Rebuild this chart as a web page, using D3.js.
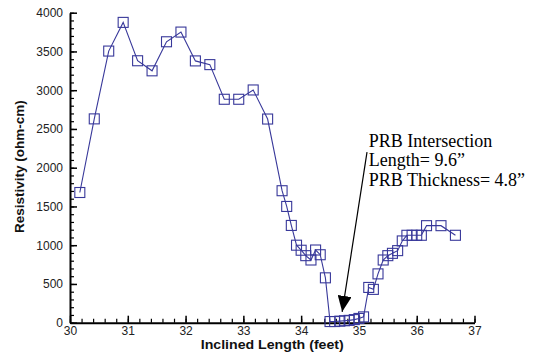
<!DOCTYPE html>
<html>
<head>
<meta charset="utf-8">
<script src="https://cdn.jsdelivr.net/npm/d3@7"></script>
<style>
  html, body { margin: 0; padding: 0; background: #fff; }
  svg { display: block; }
</style>
</head>
<body>
<div id="chart"></div>
<script>
// Data
const lengthFeet = [
  30.17, 30.42, 30.67, 30.92, 31.17, 31.42, 31.67, 31.92, 32.17, 32.42,
  32.67, 32.92, 33.17, 33.42, 33.67, 33.75, 33.83, 33.92, 34.00, 34.08,
  34.17, 34.25, 34.33, 34.42, 34.50, 34.58, 34.67, 34.75, 34.83, 34.92,
  35.00, 35.08, 35.17, 35.25, 35.33, 35.42, 35.50, 35.58, 35.67, 35.75,
  35.83, 35.92, 36.00, 36.08, 36.17, 36.42, 36.67
];
const resistivity = [
  1680, 2630, 3505, 3875, 3380, 3250, 3625, 3750, 3378, 3330,
  2883, 2883, 3003, 2628, 1703, 1500, 1255, 1000, 935, 865,
  809, 938, 877, 579, 15, 15, 20, 25, 30, 40,
  55, 75, 455, 430, 630, 809, 865, 895, 930, 1055,
  1128, 1128, 1128, 1128, 1252, 1252, 1128
];
const xTicks = [30, 31, 32, 33, 34, 35, 36, 37];
const yTicks = [0, 500, 1000, 1500, 2000, 2500, 3000, 3500, 4000];
const xLabel = "Inclined Length (feet)";
const yLabel = "Resistivity (ohm-cm)";
const noteLines = ["PRB Intersection", "Length= 9.6\u201D", "PRB Thickness= 4.8\u201D"];
const noteAnchor = { x: 35.17, y: 2270 };      // data units (first baseline)
const arrowFrom = { x: 35.14, y: 2200 };       // data units
const arrowTo = { x: 34.71, y: 140 };          // data units

const W = 539, H = 353;
const margin = { left: 70, right: 64.5, top: 12.7, bottom: 30.3 };
const color = "#38389a";

const svg = d3.select("#chart").append("svg")
  .attr("width", W).attr("height", H);

const x = d3.scaleLinear().domain([30, 37]).range([margin.left, W - margin.right]);
const y = d3.scaleLinear().domain([0, 4000]).range([H - margin.bottom, margin.top]);

// Minor ticks
const xMinor = d3.range(30, 37.001, 0.2);
const yMinor = d3.range(0, 4000.1, 100);

svg.append("g")
  .attr("transform", `translate(0,${y(0)})`)
  .call(d3.axisBottom(x).tickValues(xMinor).tickSize(-4).tickSizeOuter(0).tickFormat(""))
  .call(g => g.select(".domain").remove())
  .call(g => g.selectAll("line").attr("stroke", "#000").attr("stroke-width", 1.2));

svg.append("g")
  .attr("transform", `translate(${x(30)},0)`)
  .call(d3.axisLeft(y).tickValues(yMinor).tickSize(-4).tickSizeOuter(0).tickFormat(""))
  .call(g => g.select(".domain").remove())
  .call(g => g.selectAll("line").attr("stroke", "#000").attr("stroke-width", 1.2));

// Major axes
const xAxis = svg.append("g")
  .attr("transform", `translate(0,${y(0)})`)
  .call(d3.axisBottom(x).tickValues(xTicks).tickSize(-7).tickSizeOuter(0).tickPadding(3.5).tickFormat(d3.format("d")));
const yAxis = svg.append("g")
  .attr("transform", `translate(${x(30)},0)`)
  .call(d3.axisLeft(y).tickValues(yTicks).tickSize(-7).tickSizeOuter(0).tickPadding(7).tickFormat(d3.format("d")));

[xAxis, yAxis].forEach(g => {
  g.select(".domain").attr("stroke", "#000").attr("stroke-width", 2);
  g.selectAll(".tick line").attr("stroke", "#000").attr("stroke-width", 1.5);
  g.selectAll(".tick text")
    .attr("fill", "#222")
    .style("font-family", "Liberation Sans, Arial, sans-serif")
    .style("font-size", "12px");
});

// Line and markers
const pts = lengthFeet.map((v, i) => ({ x: v, y: resistivity[i] }));
svg.append("path")
  .datum(pts)
  .attr("fill", "none")
  .attr("stroke", color)
  .attr("stroke-width", 1.1)
  .attr("d", d3.line().x(d => x(d.x)).y(d => y(d.y)));

const s = 10;
svg.append("g").selectAll("rect")
  .data(pts)
  .join("rect")
  .attr("x", d => x(d.x) - s / 2)
  .attr("y", d => y(d.y) - s / 2)
  .attr("width", s).attr("height", s)
  .attr("fill", "none")
  .attr("stroke", color)
  .attr("stroke-width", 1.1);

// Axis titles
svg.append("text")
  .attr("x", (x(30) + x(37)) / 2)
  .attr("y", 349)
  .attr("text-anchor", "middle")
  .attr("textLength", 143)
  .attr("lengthAdjust", "spacingAndGlyphs")
  .style("font-family", "Liberation Sans, Arial, sans-serif")
  .style("font-weight", "bold")
  .style("font-size", "13px")
  .attr("fill", "#111")
  .text(xLabel);

svg.append("text")
  .attr("transform", `translate(24,${(y(0) + y(4000)) / 2 - 1}) rotate(-90)`)
  .attr("text-anchor", "middle")
  .style("font-family", "Liberation Sans, Arial, sans-serif")
  .style("font-weight", "bold")
  .style("font-size", "13.5px")
  .attr("fill", "#111")
  .text(yLabel);

// Annotation
const note = svg.append("text")
  .attr("x", x(noteAnchor.x))
  .attr("y", y(noteAnchor.y))
  .style("font-family", "Liberation Serif, Times New Roman, serif")
  .style("font-size", "18px")
  .attr("fill", "#000");
note.selectAll("tspan")
  .data(noteLines)
  .join("tspan")
  .attr("x", x(noteAnchor.x))
  .attr("dy", (d, i) => i === 0 ? 0 : 19.7)
  .text(d => d);

svg.append("defs").append("marker")
  .attr("id", "ah")
  .attr("viewBox", "0 0 16 14")
  .attr("refX", 16).attr("refY", 7)
  .attr("markerWidth", 16).attr("markerHeight", 14)
  .attr("markerUnits", "userSpaceOnUse")
  .attr("orient", "auto")
  .append("path")
  .attr("d", "M0,0 L16,7 L0,14 Z")
  .attr("fill", "#000");

svg.append("line")
  .attr("x1", x(arrowFrom.x)).attr("y1", y(arrowFrom.y))
  .attr("x2", x(arrowTo.x)).attr("y2", y(arrowTo.y))
  .attr("stroke", "#000")
  .attr("stroke-width", 1.2)
  .attr("marker-end", "url(#ah)");
</script>
</body>
</html>
